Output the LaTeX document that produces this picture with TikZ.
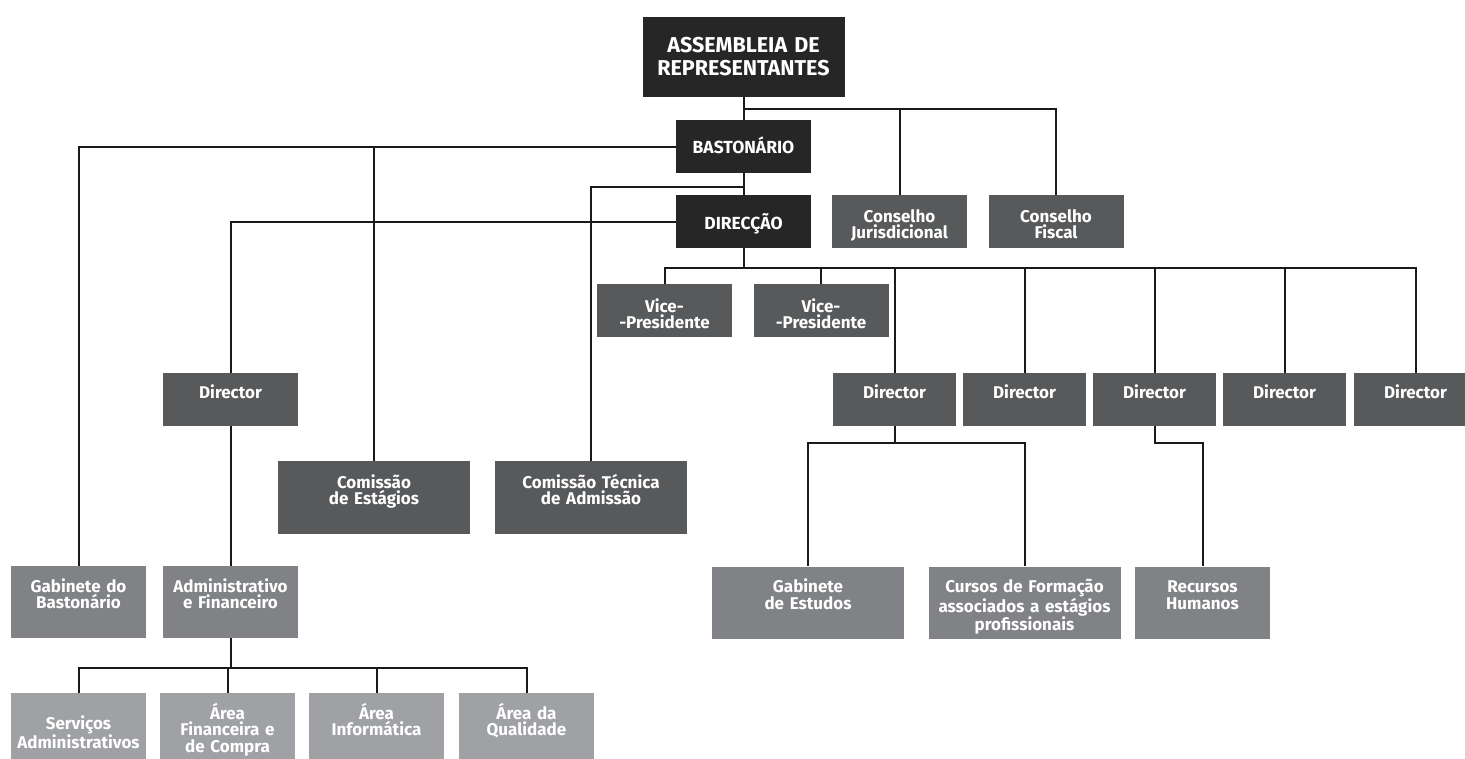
\documentclass[tikz,border=0pt]{standalone}
\usepackage{fontspec}
\setmainfont{Fira Sans}
\definecolor{orgdark}{HTML}{262626}
\definecolor{orgmid}{HTML}{58595B}
\definecolor{orglight}{HTML}{808285}
\definecolor{orgpale}{HTML}{9FA1A4}
\definecolor{orgline}{HTML}{1A1A1A}

\begin{document}
\begin{tikzpicture}[x=1pt,y=-1pt]
	\useasboundingbox (0,0) rectangle (1465,758);
\tikzset{BoxStyle/.style = 
		{shape = rectangle,
		inner sep = 0pt,
		align = center,
		text = white,
		font = \bfseries\fontsize{17}{16.5}\selectfont,
		text width = 135pt,
		text height = 27pt,
		text depth = 26pt},
	DarkBox/.style = {BoxStyle, fill=orgdark,
		font=\bfseries\fontsize{17.5}{20}\selectfont,
		text height=33pt, text depth=20pt},
	MidBox/.style = {BoxStyle, fill=orgmid},
	LightBox/.style = {BoxStyle, fill=orglight, text height=26pt, text depth=46pt},
	PaleBox/.style = {BoxStyle, fill=orgpale, text height=26pt, text depth=46pt},
	WideBox/.style = {text width=192pt, text depth=46pt},
	EdgeStyle/.style = {draw=orgline, line width=2pt}}
	%\draw[help lines] (0,0) grid[step=50] (1465,758);

	\node[DarkBox, text width=202pt, font=\bfseries\fontsize{21.5}{23}\selectfont,
		text height=35pt, text depth=45pt] (Assembleia) at (743.5,57) {ASSEMBLEIA DE\\REPRESENTANTES};
	\node[DarkBox] (Bastonario) at (743.5,146.5) {BASTONÁRIO};
	\node[DarkBox, text height=34pt, text depth=19pt] (Direccao) at (743.5,221.5) {DIRECÇÃO};
	\node[MidBox] (ConsJur) at (899.5,221.5) {Conselho\\Jurisdicional};
	\node[MidBox] (ConsFis) at (1056,221.5) {Conselho\\Fiscal};
	\node[MidBox, text height=28pt, text depth=25pt] (Vice1) at (664.5,310.5) {Vice-\\-Presidente};
	\node[MidBox, text height=28pt, text depth=25pt] (Vice2) at (821,310.5) {Vice-\\-Presidente};
	\node[MidBox, text height=25pt, text depth=28pt] (DirL) at (230.5,399.5) {Director};
	\foreach \nm/\xpos in {DirR1/894.5, DirR2/1024.5, DirR3/1154.5, DirR4/1284.5, DirR5/1415.5}
		\node[MidBox, text width=123pt, text height=25pt, text depth=28pt] (\nm) at (\xpos,399.5) {Director};
	\node[MidBox, WideBox] (ComEst) at (374,497.5) {Comissão\\de Estágios};
	\node[MidBox, WideBox] (ComTec) at (591,497.5) {Comissão Técnica\\de Admissão};
	\node[LightBox] (GabBast) at (78.5,602) {Gabinete do\\Bastonário};
	\node[LightBox] (AdmFin) at (230.5,602) {Administrativo\\e Financeiro};
	\node[LightBox, WideBox, text height=26pt] (GabEst) at (808,602.5) {Gabinete\\de Estudos};
	\node[LightBox, WideBox, text height=26pt] (Cursos) at (1024.5,602.5) {Cursos de Formação\\associados a estágios\\profissionais};
	\node[LightBox] (RecHum) at (1202.5,602.5) {Recursos\\Humanos};
	\node[PaleBox, text height=36pt, text depth=36pt] (Servicos) at (78.5,729) {Serviços\\Administrativos};
	\node[PaleBox] (AreaFin) at (227.5,729) {Área\\Financeira e\\de Compra};
	\node[PaleBox] (AreaInf) at (376.5,729) {Área\\Informática};
	\node[PaleBox] (AreaQual) at (526.5,729) {Área da\\Qualidade};

	% ligacoes
	\coordinate (ConsFork) at (743.5,109);
	\coordinate (TecFork) at (743.5,187);
	\coordinate (DirFork) at (743.5,268);
	\coordinate (AdmFork) at (230.5,668);
	\coordinate (EstFork) at (894.5,443);
	\coordinate (RhFork) at (1154.5,443);
	\draw[EdgeStyle] (Assembleia) -- (Bastonario);
	\draw[EdgeStyle] (ConsFork) -| (ConsJur);
	\draw[EdgeStyle] (ConsFork) -| (ConsFis);
	\draw[EdgeStyle] (Bastonario) -| (GabBast);
	\draw[EdgeStyle] (Bastonario) -| (ComEst);
	\draw[EdgeStyle] (Bastonario) -- (Direccao);
	\draw[EdgeStyle] (TecFork) -| (ComTec);
	\draw[EdgeStyle] (Direccao) -| (DirL);
	\draw[EdgeStyle] (Direccao) -- (DirFork);
	\foreach \nm in {Vice1,Vice2,DirR1,DirR2,DirR3,DirR4,DirR5}
		\draw[EdgeStyle] (DirFork) -| (\nm);
	\draw[EdgeStyle] (DirL) -- (AdmFin);
	\draw[EdgeStyle] (AdmFin) -- (AdmFork);
	\foreach \nm in {Servicos,AreaFin,AreaInf,AreaQual}
		\draw[EdgeStyle] (AdmFork) -| (\nm);
	\draw[EdgeStyle] (DirR1) -- (EstFork);
	\draw[EdgeStyle] (EstFork) -| (GabEst);
	\draw[EdgeStyle] (EstFork) -| (Cursos);
	\draw[EdgeStyle] (DirR3) -- (RhFork) -| (RecHum);
%	\draw[EdgeStyle] (Direccao) -- (DirR1);
\end{tikzpicture}
\end{document}
